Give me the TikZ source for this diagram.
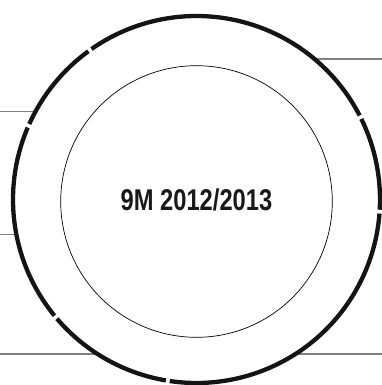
\documentclass[tikz,border=0pt]{standalone}
\usepackage{fontspec}
\setmainfont{Liberation Sans}
\usetikzlibrary{calc}
\begin{document}
\begin{tikzpicture}[x=1pt,y=-1pt,
  ring/.style={line width=4.3pt,draw=black!92,line cap=butt},
  inner/.style={line width=0.7pt,draw=black},
  lead/.style={line width=1.2pt,draw=black!50},
  label/.style={text=black!90,inner sep=0pt,anchor=base}]
\useasboundingbox (0,0) rectangle (382,385);
\coordinate (c) at (196.5,199.5);
\coordinate (ci) at (196.5,201.5);
% leader lines
\coordinate (r1) at (382,59);
\coordinate (r1c) at (314.5,59);
\coordinate (l1) at (0,111.7);
\coordinate (l1c) at (36,111.7);
\coordinate (l2) at (0,234.3);
\coordinate (l2c) at (17,234.3);
\coordinate (l3) at (0,354);
\coordinate (l3c) at (98,354);
\coordinate (r3) at (382,354);
\coordinate (r3c) at (295,354);
\draw[lead] (r1c) -- (r1);
\draw[lead] (l1) -- (l1c);
\draw[lead] (l2) -- (l2c);
\draw[lead] (l3) -- (l3c);
\draw[lead] (r3c) -- (r3);
% outer segmented ring (angles measured counterclockwise, y is flipped)
\foreach \a/\b in {27.25/124.9, 126.1/155.7, 156.9/219.3, 220.5/260.4, 261.6/355.6, 356.8/386.05}{
  \draw[ring] ($(c)+({cos(\a)*183.5},{-sin(\a)*183.5})$) arc[start angle=-\a, end angle=-\b, radius=183.5];
}
% inner circle
\draw[inner] (ci) circle[radius=135.8];
\node[label] (t) at (196.5,210) {\scalebox{0.79}[1]{\fontsize{30}{30}\selectfont\bfseries 9M 2012/2013}};
\end{tikzpicture}
\end{document}
